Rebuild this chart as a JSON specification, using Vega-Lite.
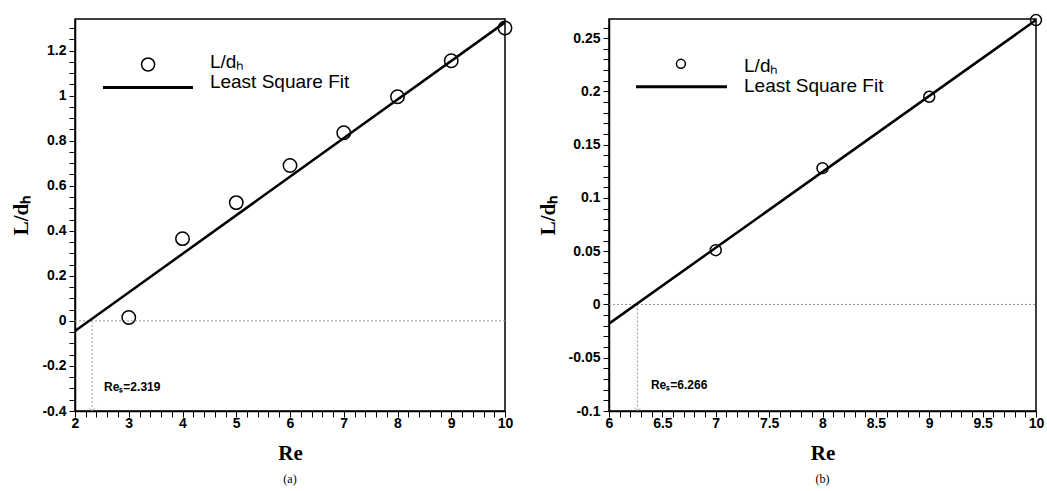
{
  "$schema": "https://vega.github.io/schema/vega-lite/v6.json",
  "background": "white",
  "padding": {"left": 10, "top": 10, "right": 0, "bottom": 2},
  "spacing": 20,
  "config": {
    "view": {"stroke": "black", "strokeWidth": 1.5},
    "axis": {
      "grid": false,
      "ticks": true,
      "domainColor": "black",
      "domainWidth": 1.5,
      "tickColor": "black",
      "tickWidth": 1,
      "tickSize": 6,
      "tickCount": 200,
      "labelFont": "Liberation Sans",
      "labelFontWeight": "bold",
      "labelFontSize": 14,
      "labelColor": "black",
      "labelOverlap": false,
      "labelFlush": false,
      "titleFont": "Liberation Serif",
      "titleFontWeight": "bold",
      "titleFontSize": 21,
      "titleColor": "black"
    }
  },
  "datasets": {
    "a_pts": [
      {"Re": 3, "L": 0.015},
      {"Re": 4, "L": 0.365},
      {"Re": 5, "L": 0.525},
      {"Re": 6, "L": 0.69},
      {"Re": 7, "L": 0.835},
      {"Re": 8, "L": 0.995},
      {"Re": 9, "L": 1.155},
      {"Re": 10, "L": 1.3}
    ],
    "a_fit": [
      {"Re": 2, "L": -0.045},
      {"Re": 10, "L": 1.325}
    ],
    "a_ref": [
      {"Re": 2, "Re2": 10, "L": 0, "L2": 0},
      {"Re": 2.319, "Re2": 2.319, "L": 0, "L2": -0.4}
    ],
    "b_pts": [
      {"Re": 7, "L": 0.051},
      {"Re": 8, "L": 0.128},
      {"Re": 9, "L": 0.195},
      {"Re": 10, "L": 0.267}
    ],
    "b_fit": [
      {"Re": 6, "L": -0.018},
      {"Re": 10, "L": 0.267}
    ],
    "b_ref": [
      {"Re": 6, "Re2": 10, "L": 0, "L2": 0},
      {"Re": 6.266, "Re2": 6.266, "L": 0, "L2": -0.1}
    ]
  },
  "hconcat": [
    {
      "width": 430,
      "height": 392,
      "title": {"text": "(a)", "orient": "bottom", "font": "Liberation Serif", "fontSize": 12, "fontWeight": "normal", "color": "black", "offset": 11},
      "layer": [
        {
          "data": {"name": "a_ref"},
          "mark": {"type": "rule", "color": "#9a9a9a", "strokeWidth": 1, "strokeDash": [2, 2]},
          "encoding": {
            "x": {"field": "Re", "type": "quantitative", "scale": {"domain": [2, 10], "nice": false, "zero": false},
              "axis": {"title": "Re", "titlePadding": 12, "labelPadding": -1, "labelOverlap": false, "labelFlush": false, "tickSize": 6, "tickCount": 200,
                "values": [2,2.2,2.4,2.6,2.8,3,3.2,3.4,3.6,3.8,4,4.2,4.4,4.6,4.8,5,5.2,5.4,5.6,5.8,6,6.2,6.4,6.6,6.8,7,7.2,7.4,7.6,7.8,8,8.2,8.4,8.6,8.8,9,9.2,9.4,9.6,9.8,10],
                "labelExpr": "abs(datum.value - round(datum.value)) < 0.001 ? '' + datum.value : ''",
                "encode": {"ticks": {"update": {"y2": {"signal": "abs(datum.value - round(datum.value)) < 0.001 ? -6 : -3"}}}}}},
            "x2": {"field": "Re2"},
            "y": {"field": "L", "type": "quantitative", "scale": {"domain": [-0.4, 1.34], "nice": false, "zero": false},
              "axis": {"title": "L/dₕ", "titlePadding": 10, "labelPadding": 3, "labelOverlap": false, "tickSize": 6, "tickCount": 200,
                "values": [-0.4,-0.35,-0.3,-0.25,-0.2,-0.15,-0.1,-0.05,0,0.05,0.1,0.15,0.2,0.25,0.3,0.35,0.4,0.45,0.5,0.55,0.6,0.65,0.7,0.75,0.8,0.85,0.9,0.95,1,1.05,1.1,1.15,1.2,1.25,1.3],
                "labelExpr": "abs(datum.value*5 - round(datum.value*5)) < 0.001 ? '' + datum.value : ''",
                "encode": {"ticks": {"update": {"x2": {"signal": "abs(datum.value*5 - round(datum.value*5)) < 0.001 ? 6 : 3"}}}}}},
            "y2": {"field": "L2"}
          }
        },
        {
          "data": {"values": [{"Re": 2.319, "L": -0.4}]},
          "mark": {"type": "point", "shape": "M-1,-1L0,0L1,-1", "size": 40, "filled": false, "color": "#9a9a9a", "strokeWidth": 1, "clip": false},
          "encoding": {
            "x": {"field": "Re", "type": "quantitative"},
            "y": {"field": "L", "type": "quantitative"}
          }
        },
        {
          "data": {"name": "a_fit"},
          "mark": {"type": "line", "color": "black", "strokeWidth": 2.5, "clip": true},
          "encoding": {
            "x": {"field": "Re", "type": "quantitative"},
            "y": {"field": "L", "type": "quantitative"}
          }
        },
        {
          "data": {"name": "a_pts"},
          "mark": {"type": "point", "shape": "circle", "size": 180, "filled": false, "color": "black", "strokeWidth": 1.5, "opacity": 1, "clip": false},
          "encoding": {
            "x": {"field": "Re", "type": "quantitative"},
            "y": {"field": "L", "type": "quantitative"}
          }
        },
        {
          "data": {"values": [{"Re": 3.36, "L": 1.138}]},
          "mark": {"type": "point", "shape": "circle", "size": 170, "filled": false, "color": "black", "strokeWidth": 1.5, "opacity": 1},
          "encoding": {
            "x": {"field": "Re", "type": "quantitative"},
            "y": {"field": "L", "type": "quantitative"}
          }
        },
        {
          "data": {"values": [{"Re": 2.52, "Re2": 4.195, "L": 1.036}]},
          "mark": {"type": "rule", "color": "black", "strokeWidth": 3},
          "encoding": {
            "x": {"field": "Re", "type": "quantitative"},
            "x2": {"field": "Re2"},
            "y": {"field": "L", "type": "quantitative"}
          }
        },
        {
          "data": {"values": [{"Re": 4.51, "L": 1.151, "t": "L/dₕ"}, {"Re": 4.51, "L": 1.062, "t": "Least Square Fit"}]},
          "mark": {"type": "text", "align": "left", "baseline": "middle", "font": "Liberation Sans", "fontSize": 19, "color": "black"},
          "encoding": {
            "x": {"field": "Re", "type": "quantitative"},
            "y": {"field": "L", "type": "quantitative"},
            "text": {"field": "t"}
          }
        },
        {
          "data": {"values": [{"Re": 2.54, "L": -0.293, "t": "Reₛ=2.319"}]},
          "mark": {"type": "text", "align": "left", "baseline": "middle", "font": "Liberation Sans", "fontWeight": "bold", "fontSize": 12, "color": "black"},
          "encoding": {
            "x": {"field": "Re", "type": "quantitative"},
            "y": {"field": "L", "type": "quantitative"},
            "text": {"field": "t"}
          }
        }
      ]
    },
    {
      "width": 427,
      "height": 392,
      "title": {"text": "(b)", "orient": "bottom", "font": "Liberation Serif", "fontSize": 12, "fontWeight": "normal", "color": "black", "offset": 11},
      "layer": [
        {
          "data": {"name": "b_ref"},
          "mark": {"type": "rule", "color": "#9a9a9a", "strokeWidth": 1, "strokeDash": [2, 2]},
          "encoding": {
            "x": {"field": "Re", "type": "quantitative", "scale": {"domain": [6, 10], "nice": false, "zero": false},
              "axis": {"title": "Re", "titlePadding": 12, "labelPadding": -1, "labelOverlap": false, "labelFlush": false, "tickSize": 6, "tickCount": 200,
                "values": [6,6.1,6.2,6.3,6.4,6.5,6.6,6.7,6.8,6.9,7,7.1,7.2,7.3,7.4,7.5,7.6,7.7,7.8,7.9,8,8.1,8.2,8.3,8.4,8.5,8.6,8.7,8.8,8.9,9,9.1,9.2,9.3,9.4,9.5,9.6,9.7,9.8,9.9,10],
                "labelExpr": "abs(datum.value*2 - round(datum.value*2)) < 0.001 ? '' + datum.value : ''",
                "encode": {"ticks": {"update": {"y2": {"signal": "abs(datum.value*2 - round(datum.value*2)) < 0.001 ? -6 : -3"}}}}}},
            "x2": {"field": "Re2"},
            "y": {"field": "L", "type": "quantitative", "scale": {"domain": [-0.1, 0.268], "nice": false, "zero": false},
              "axis": {"title": "L/dₕ", "titlePadding": 10, "labelPadding": 3, "labelOverlap": false, "tickSize": 6, "tickCount": 200,
                "values": [-0.1,-0.09,-0.08,-0.07,-0.06,-0.05,-0.04,-0.03,-0.02,-0.01,0,0.01,0.02,0.03,0.04,0.05,0.06,0.07,0.08,0.09,0.1,0.11,0.12,0.13,0.14,0.15,0.16,0.17,0.18,0.19,0.2,0.21,0.22,0.23,0.24,0.25,0.26],
                "labelExpr": "abs(datum.value*20 - round(datum.value*20)) < 0.001 ? '' + datum.value : ''",
                "encode": {"ticks": {"update": {"x2": {"signal": "abs(datum.value*20 - round(datum.value*20)) < 0.001 ? 6 : 3"}}}}}},
            "y2": {"field": "L2"}
          }
        },
        {
          "data": {"values": [{"Re": 6.266, "L": -0.1}]},
          "mark": {"type": "point", "shape": "M-1,-1L0,0L1,-1", "size": 40, "filled": false, "color": "#9a9a9a", "strokeWidth": 1, "clip": false},
          "encoding": {
            "x": {"field": "Re", "type": "quantitative"},
            "y": {"field": "L", "type": "quantitative"}
          }
        },
        {
          "data": {"name": "b_fit"},
          "mark": {"type": "line", "color": "black", "strokeWidth": 2.5, "clip": true},
          "encoding": {
            "x": {"field": "Re", "type": "quantitative"},
            "y": {"field": "L", "type": "quantitative"}
          }
        },
        {
          "data": {"name": "b_pts"},
          "mark": {"type": "point", "shape": "circle", "size": 120, "filled": false, "color": "black", "strokeWidth": 1.5, "opacity": 1, "clip": false},
          "encoding": {
            "x": {"field": "Re", "type": "quantitative"},
            "y": {"field": "L", "type": "quantitative"}
          }
        },
        {
          "data": {"values": [{"Re": 6.674, "L": 0.2259}]},
          "mark": {"type": "point", "shape": "circle", "size": 80, "filled": false, "color": "black", "strokeWidth": 1.5, "opacity": 1},
          "encoding": {
            "x": {"field": "Re", "type": "quantitative"},
            "y": {"field": "L", "type": "quantitative"}
          }
        },
        {
          "data": {"values": [{"Re": 6.253, "Re2": 7.105, "L": 0.2044}]},
          "mark": {"type": "rule", "color": "black", "strokeWidth": 3},
          "encoding": {
            "x": {"field": "Re", "type": "quantitative"},
            "x2": {"field": "Re2"},
            "y": {"field": "L", "type": "quantitative"}
          }
        },
        {
          "data": {"values": [{"Re": 7.265, "L": 0.2241, "t": "L/dₕ"}, {"Re": 7.265, "L": 0.2053, "t": "Least Square Fit"}]},
          "mark": {"type": "text", "align": "left", "baseline": "middle", "font": "Liberation Sans", "fontSize": 19, "color": "black"},
          "encoding": {
            "x": {"field": "Re", "type": "quantitative"},
            "y": {"field": "L", "type": "quantitative"},
            "text": {"field": "t"}
          }
        },
        {
          "data": {"values": [{"Re": 6.393, "L": -0.076, "t": "Reₛ=6.266"}]},
          "mark": {"type": "text", "align": "left", "baseline": "middle", "font": "Liberation Sans", "fontWeight": "bold", "fontSize": 12, "color": "black"},
          "encoding": {
            "x": {"field": "Re", "type": "quantitative"},
            "y": {"field": "L", "type": "quantitative"},
            "text": {"field": "t"}
          }
        }
      ]
    }
  ]
}
